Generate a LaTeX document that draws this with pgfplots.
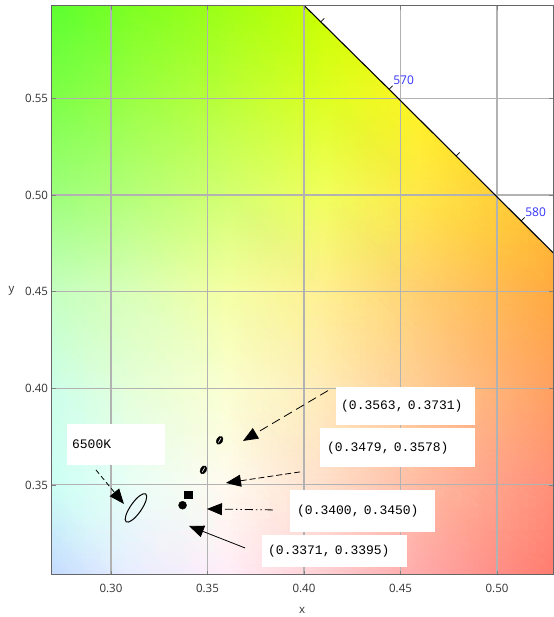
\documentclass[border=0pt]{standalone}
\usepackage{fontspec}
\setmainfont{Open Sans}
\newfontfamily\lblfont{Liberation Mono}
\usepackage{pgfplots}
\pgfplotsset{compat=1.18}
\usetikzlibrary{arrows.meta}
% background colour grid (rows: y = 0.30 ... 0.60, cols: x = 0.27 ... 0.53)
\definecolor{a1}{HTML}{C4DCFF}\definecolor{a2}{HTML}{E8EEFF}\definecolor{a3}{HTML}{FFEEF8}\definecolor{a4}{HTML}{FFD0D4}\definecolor{a5}{HTML}{FFAAAA}\definecolor{a6}{HTML}{FF7C70}
\definecolor{b1}{HTML}{CCFFF4}\definecolor{b2}{HTML}{E8FFF6}\definecolor{b3}{HTML}{FFFBEE}\definecolor{b4}{HTML}{FFE0CC}\definecolor{b5}{HTML}{FFBCA4}\definecolor{b6}{HTML}{FF9078}
\definecolor{c1}{HTML}{CCFFE8}\definecolor{c2}{HTML}{E4FFD8}\definecolor{c3}{HTML}{FAFFD0}\definecolor{c4}{HTML}{FFECB8}\definecolor{c5}{HTML}{FFCC94}\definecolor{c6}{HTML}{FFA060}
\definecolor{d1}{HTML}{C4FFC0}\definecolor{d2}{HTML}{D8FFB8}\definecolor{d3}{HTML}{F4FFA4}\definecolor{d4}{HTML}{FFF090}\definecolor{d5}{HTML}{FFD070}\definecolor{d6}{HTML}{FFAA40}
\definecolor{e1}{HTML}{9CFF7A}\definecolor{e2}{HTML}{B4FF78}\definecolor{e3}{HTML}{D2FF70}\definecolor{e4}{HTML}{F0FF5C}\definecolor{e5}{HTML}{FFE848}\definecolor{e6}{HTML}{FFBE2C}
\definecolor{f1}{HTML}{7CFF48}\definecolor{f2}{HTML}{99FF44}\definecolor{f3}{HTML}{BBFF38}\definecolor{f4}{HTML}{DDFF22}\definecolor{f5}{HTML}{FFF422}\definecolor{f6}{HTML}{FFC818}
\definecolor{g1}{HTML}{5CFF30}\definecolor{g2}{HTML}{7CFF22}\definecolor{g3}{HTML}{A0FF14}\definecolor{g4}{HTML}{C8FF00}\definecolor{g5}{HTML}{EEFF00}\definecolor{g6}{HTML}{FFD000}
\definecolor{wlblue}{RGB}{51,51,255}
\begin{document}
\begin{tikzpicture}
\begin{axis}[
  axis on top,
  at={(0,0)}, anchor=south west,
  scale only axis, width=501.5pt, height=569pt,
  xmin=0.2692, xmax=0.5290, ymin=0.3034, ymax=0.5978,
  xtick={0.30,0.35,0.40,0.45,0.50},
  ytick={0.35,0.40,0.45,0.50,0.55},
  scaled ticks=false,
  /pgf/number format/fixed, /pgf/number format/fixed zerofill, /pgf/number format/precision=2,
  /pgf/number format/assume math mode=true,
  axis line style={draw=black!60, line width=1pt},
  tick align=inside, major tick length=4pt, tick style={black!50, line width=0.8pt},
  tick label style={font=\fontsize{11.5}{13}\selectfont, text=black!80},
  xticklabel style={yshift=-6pt},
  xlabel={x}, ylabel={y},
  label style={font=\fontsize{11.5}{13}\selectfont, text=black!80},
  xlabel style={at={(axis description cs:0.5,0)}, anchor=center, yshift=-35pt},
  ylabel style={at={(axis description cs:0,0.5)}, anchor=center, rotate=-90, xshift=-40pt},
]
% chromaticity background
\addplot[surf, shader=interp, mesh/color input=explicit, mesh/cols=6]
table[x=x, y=y, meta=c] {
x y c
0.2692 0.3034 color=a1
0.31 0.3034 color=a2
0.36 0.3034 color=a3
0.41 0.3034 color=a4
0.46 0.3034 color=a5
0.5290 0.3034 color=a6
0.2692 0.35 color=b1
0.31 0.35 color=b2
0.36 0.35 color=b3
0.41 0.35 color=b4
0.46 0.35 color=b5
0.5290 0.35 color=b6
0.2692 0.40 color=c1
0.31 0.40 color=c2
0.36 0.40 color=c3
0.41 0.40 color=c4
0.46 0.40 color=c5
0.5290 0.40 color=c6
0.2692 0.45 color=d1
0.31 0.45 color=d2
0.36 0.45 color=d3
0.41 0.45 color=d4
0.46 0.45 color=d5
0.5290 0.45 color=d6
0.2692 0.50 color=e1
0.31 0.50 color=e2
0.36 0.50 color=e3
0.41 0.50 color=e4
0.46 0.50 color=e5
0.5290 0.50 color=e6
0.2692 0.55 color=f1
0.31 0.55 color=f2
0.36 0.55 color=f3
0.41 0.55 color=f4
0.46 0.55 color=f5
0.5290 0.55 color=f6
0.2692 0.5978 color=g1
0.31 0.5978 color=g2
0.36 0.5978 color=g3
0.41 0.5978 color=g4
0.46 0.5978 color=g5
0.5290 0.5978 color=g6
};
% outside of the spectral locus
\addplot[fill=white, draw=none] coordinates {
(0.3731,0.6245) (0.4087,0.5896) (0.4441,0.5547) (0.4788,0.5202) (0.5125,0.4866) (0.5448,0.4544)
(0.60,0.4544) (0.60,0.65) (0.3731,0.65)} --cycle;
% grid lines
\addplot[black!30, line width=1.1pt, unbounded coords=jump] coordinates {
(0.30,0.3034) (0.30,0.5978) (nan,nan)
(0.35,0.3034) (0.35,0.5978) (nan,nan)
(0.40,0.3034) (0.40,0.5978) (nan,nan)
(0.45,0.3034) (0.45,0.5978) (nan,nan)
(0.50,0.3034) (0.50,0.5978) (nan,nan)
(0.2692,0.35) (0.5290,0.35) (nan,nan)
(0.2692,0.40) (0.5290,0.40) (nan,nan)
(0.2692,0.45) (0.5290,0.45) (nan,nan)
(0.2692,0.50) (0.5290,0.50) (nan,nan)
(0.2692,0.55) (0.5290,0.55)};
% spectral locus
\addplot[black, line width=1.1pt] coordinates {
(0.3731,0.6245) (0.4087,0.5896) (0.4441,0.5547) (0.4788,0.5202) (0.5125,0.4866) (0.5448,0.4544)};
\addplot[black, line width=0.8pt, unbounded coords=jump] coordinates {
(0.4087,0.5896) (0.4105,0.5914) (nan,nan)
(0.4441,0.5547) (0.4459,0.5565) (nan,nan)
(0.4788,0.5202) (0.4806,0.5220) (nan,nan)
(0.5125,0.4866) (0.5143,0.4884)};
\node[anchor=south west, inner sep=0.5pt, text=wlblue, font=\fontsize{12}{13}\selectfont] at (axis cs:0.4459,0.5565) {570};
\node[anchor=south west, inner sep=0.5pt, text=wlblue, font=\fontsize{12}{13}\selectfont] at (axis cs:0.5143,0.4884) {580};
% 6500K ellipse
\addplot[only marks, mark=o, mark size=5.5pt, line width=1pt, mark options={rotate=55, xscale=3.1}] coordinates {(0.31295,0.33811)};
% measured points
\addplot[only marks, mark=*, mark size=3pt, mark options={rotate=60, xscale=1.45}] coordinates {(0.3563,0.3731) (0.3479,0.3578)};
\addplot[only marks, mark=-, mark size=2.6pt, white, line width=0.6pt, mark options={rotate=60}] coordinates {(0.3563,0.3731) (0.3479,0.3578)};
\addplot[only marks, mark=square*, mark size=3.8pt] coordinates {(0.3400,0.3450)};
\addplot[only marks, mark=*, mark size=4pt] coordinates {(0.3371,0.3395)};
% arrows
\addplot[black, line width=0.8pt, dash pattern=on 9pt off 5pt, -{Triangle[length=15pt,width=12pt]}] coordinates {(0.41243,0.39880) (0.36839,0.37276)};
\addplot[black, line width=0.8pt, dash pattern=on 6pt off 3pt, -{Triangle[length=15pt,width=12pt]}] coordinates {(0.39793,0.35673) (0.35958,0.35103)};
\addplot[black, line width=0.8pt, dash pattern=on 8pt off 3pt on 1.5pt off 3pt on 1.5pt off 3pt, -{Triangle[length=15pt,width=12pt]}] coordinates {(0.38394,0.33707) (0.34974,0.33758)};
\addplot[black, line width=0.8pt, -{Triangle[length=15pt,width=12pt]}] coordinates {(0.36943,0.31741) (0.34041,0.32879)};
\addplot[black, line width=0.8pt, dash pattern=on 5pt off 3pt, -{Triangle[length=15pt,width=12pt]}] coordinates {(0.29223,0.35776) (0.30673,0.34017)};
% label boxes
\tikzset{lbox/.style={fill=white, anchor=north west, inner ysep=0pt, align=left, font=\lblfont\fontsize{13}{15}\selectfont}}
\node[lbox, inner xsep=5pt, text width=129pt, minimum height=38pt] at (axis cs:0.41658,0.40070) {(0.3563, 0.3731)};
\node[lbox, inner xsep=7pt, text width=141pt, minimum height=39pt] at (axis cs:0.40829,0.37948) {(0.3479, 0.3578)};
\node[lbox, inner xsep=7pt, text width=131pt, minimum height=42pt] at (axis cs:0.39275,0.34741) {(0.3400, 0.3450)};
\node[lbox, inner xsep=6pt, text width=133pt, minimum height=32pt] at (axis cs:0.37824,0.32413) {(0.3371, 0.3395)};
\node[lbox, inner xsep=5pt, text width=88pt, minimum height=41pt] at (axis cs:0.27720,0.38156) {6500K};
\end{axis}
\pgfresetboundingbox
\path[use as bounding box] (-51.5pt,-42pt) rectangle (501.5pt,575pt);
\end{tikzpicture}
\end{document}
